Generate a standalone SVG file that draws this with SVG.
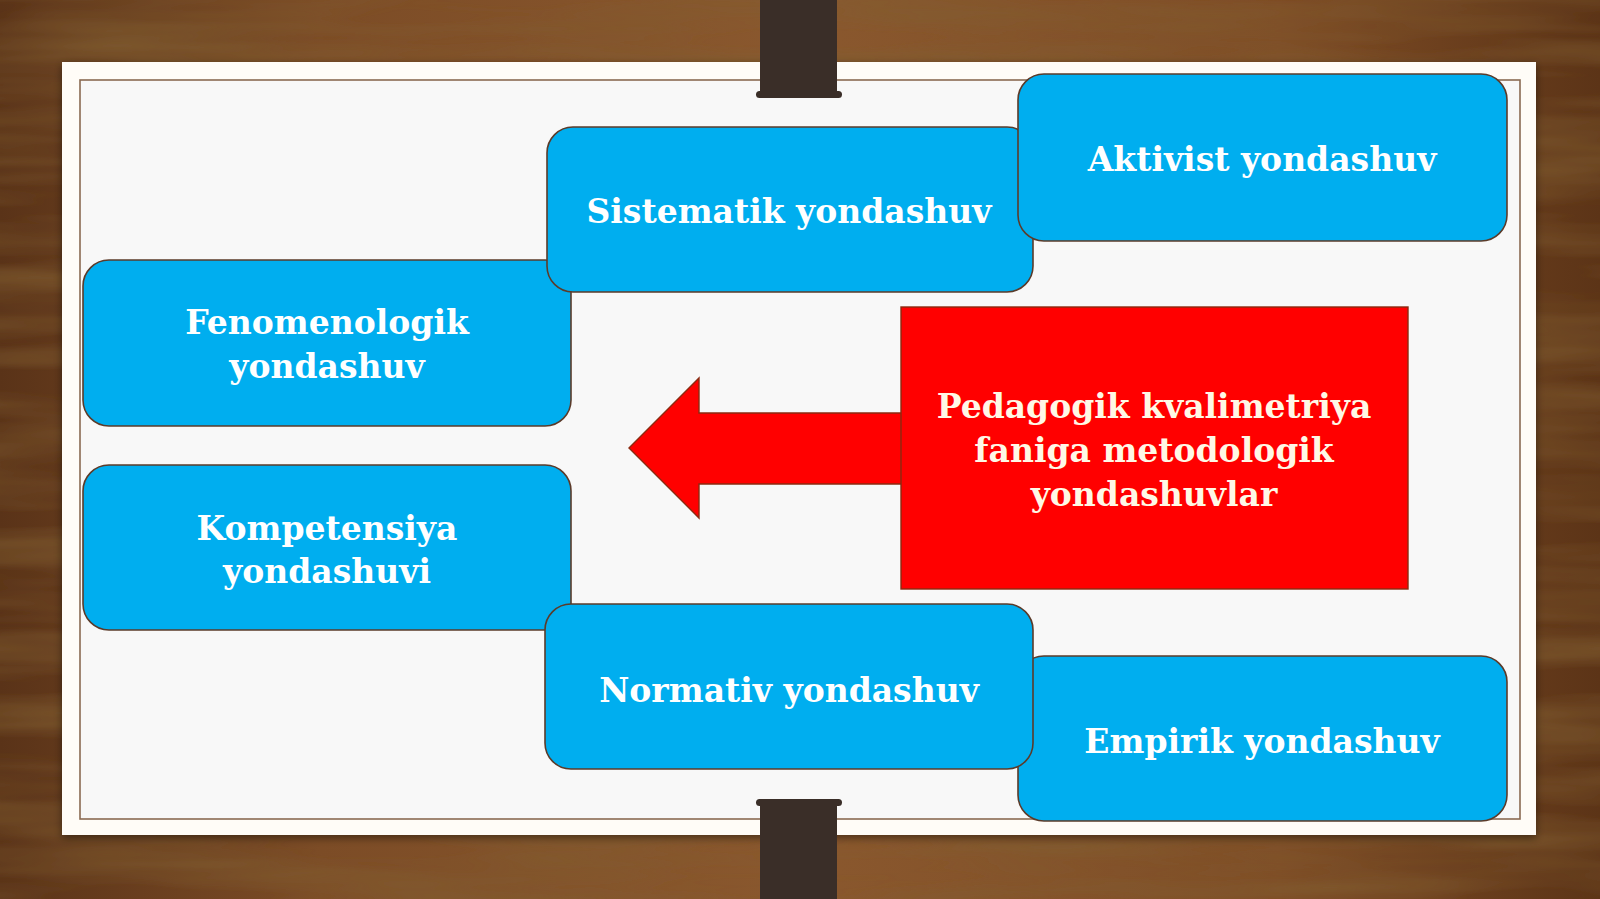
<svg xmlns="http://www.w3.org/2000/svg" width="1600" height="899" viewBox="0 0 1600 899">
  <defs>
    <linearGradient id="woodBase" x1="0" y1="0" x2="1" y2="0">
      <stop offset="0" stop-color="#5a3318"/>
      <stop offset="0.2" stop-color="#7c4c26"/>
      <stop offset="0.5" stop-color="#8a582e"/>
      <stop offset="0.8" stop-color="#7e4c25"/>
      <stop offset="1" stop-color="#5c3417"/>
    </linearGradient>
    <filter id="grain" x="0" y="0" width="100%" height="100%">
      <feTurbulence type="fractalNoise" baseFrequency="0.003 0.03" numOctaves="3" seed="11" result="n"/>
      <feColorMatrix in="n" type="matrix" values="0 0 0 0 0.22  0 0 0 0 0.11  0 0 0 0 0.03  0 0 0 -1.3 0.85" result="dark"/>
      <feComposite in="dark" in2="SourceGraphic" operator="in"/>
    </filter>
    <filter id="shadow" x="-5%" y="-5%" width="110%" height="110%">
      <feDropShadow dx="0" dy="3" stdDeviation="4" flood-color="#000" flood-opacity="0.45"/>
    </filter>
    <style>
      .box { fill: #00AEEF; stroke: #5b3b2a; stroke-width: 1.6; }
      .lbl { font-family: "DejaVu Serif", "Liberation Serif", serif; font-weight: bold; font-size: 33px; fill: #FFFFFF; text-anchor: middle; }
      .rlbl { font-family: "DejaVu Serif", "Liberation Serif", serif; font-weight: bold; font-size: 33px; fill: #FFF8E6; text-anchor: middle; }
      .post { fill: #3a2e28; }
    </style>
  </defs>

  <g id="background">
    <rect x="0" y="0" width="1600" height="899" fill="url(#woodBase)"/>
    <rect x="0" y="0" width="1600" height="899" fill="#ffffff" filter="url(#grain)"/>
  </g>

  <g id="board">
    <rect x="62" y="62" width="1474" height="773" fill="#FFFCF7" filter="url(#shadow)"/>
    <rect x="80" y="80" width="1440" height="739" fill="#F8F8F8" stroke="#8a6a52" stroke-width="1.6"/>
    <rect class="post" x="760" y="0" width="77" height="95"/>
    <rect class="post" x="756" y="91" width="86" height="7" rx="3.5"/>
    <rect class="post" x="760" y="803" width="77" height="96"/>
    <rect class="post" x="756" y="799" width="86" height="7" rx="3.5"/>
  </g>

  <g id="connectors">
    <polygon points="629,448 699,378 699,413 904,413 904,484 699,484 699,518" fill="#FF0000" stroke="#8b2a10" stroke-width="1.4" stroke-linejoin="miter"/>
  </g>

  <g id="center">
    <rect x="901" y="307" width="507" height="282" fill="#FF0000" stroke="#8b2a10" stroke-width="1.4"/>
    <text class="rlbl" x="1154" y="418">Pedagogik kvalimetriya</text>
    <text class="rlbl" x="1154" y="462">faniga metodologik</text>
    <text class="rlbl" x="1154" y="506">yondashuvlar</text>
  </g>

  <g id="fenomenologik">
    <rect class="box" x="83" y="260" width="488" height="166" rx="26"/>
    <text class="lbl" x="327" y="334">Fenomenologik</text>
    <text class="lbl" x="327" y="378">yondashuv</text>
  </g>

  <g id="sistematik">
    <rect class="box" x="547" y="127" width="486" height="165" rx="26"/>
    <text class="lbl" x="789" y="223">Sistematik yondashuv</text>
  </g>

  <g id="aktivist">
    <rect class="box" x="1018" y="74" width="489" height="167" rx="26"/>
    <text class="lbl" x="1262" y="171">Aktivist yondashuv</text>
  </g>

  <g id="kompetensiya">
    <rect class="box" x="83" y="465" width="488" height="165" rx="26"/>
    <text class="lbl" x="327" y="540">Kompetensiya</text>
    <text class="lbl" x="327" y="583">yondashuvi</text>
  </g>

  <g id="empirik">
    <rect class="box" x="1018" y="656" width="489" height="165" rx="26"/>
    <text class="lbl" x="1262" y="753">Empirik yondashuv</text>
  </g>

  <g id="normativ">
    <rect class="box" x="545" y="604" width="488" height="165" rx="26"/>
    <text class="lbl" x="789" y="702">Normativ yondashuv</text>
  </g>
</svg>
